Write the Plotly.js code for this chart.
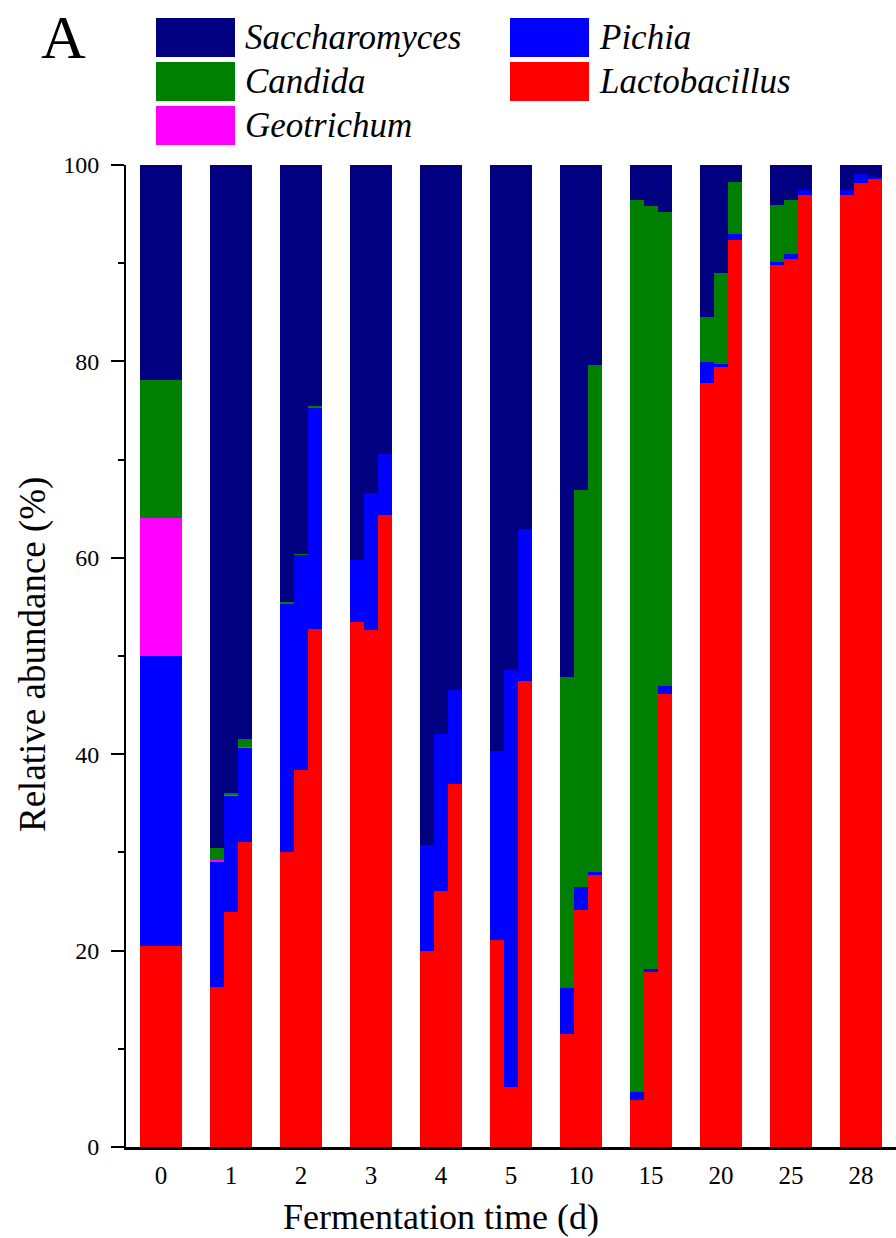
<!DOCTYPE html>
<html>
<head>
<meta charset="utf-8">
<script src="https://cdn.plot.ly/plotly-3.0.1.min.js"></script>
<style>
html,body{margin:0;padding:0;background:#fff;}
#chart{width:896px;height:1238px;}
</style>
</head>
<body>
<div id="chart"></div>
<script>
// ---- data (relative abundance, %, three replicates per sampling day) ----
const days = ['0', '1', '2', '3', '4', '5', '10', '15', '20', '25', '28'];
const genera = ['Saccharomyces', 'Pichia', 'Candida', 'Lactobacillus', 'Geotrichum'];

const lactobacillus = [
  [20.5, 20.5, 20.5], [16.3, 23.9, 31.1], [30.0, 38.4, 52.7], [53.5, 52.6, 64.4],
  [20.0, 26.1, 37.0], [21.1, 6.1, 47.5], [11.5, 24.1, 27.7], [4.8, 17.8, 46.1],
  [77.8, 79.4, 92.4], [89.8, 90.4, 96.9], [96.9, 98.2, 98.6]
];
const pichia = [
  [29.5, 29.5, 29.5], [12.7, 11.8, 9.5], [25.3, 21.9, 22.6], [6.3, 14.0, 6.2],
  [10.8, 16.0, 9.5], [19.2, 42.5, 15.4], [4.7, 2.4, 0.3], [0.8, 0.3, 0.8],
  [2.1, 0.3, 0.6], [0.3, 0.5, 0.6], [0.6, 0.9, 0.2]
];
const geotrichum = [
  [14.1, 14.1, 14.1], [0.2, 0.1, 0.1], [0, 0, 0], [0, 0, 0],
  [0, 0, 0], [0, 0, 0], [0, 0, 0], [0, 0, 0],
  [0, 0, 0], [0, 0, 0], [0, 0, 0]
];
const candida = [
  [14.0, 14.0, 14.0], [1.2, 0.3, 0.8], [0.2, 0.1, 0.2], [0, 0, 0],
  [0, 0, 0], [0, 0, 0], [31.7, 40.4, 51.6], [90.8, 77.7, 48.3],
  [4.6, 9.3, 5.3], [5.8, 5.5, 0], [0, 0, 0]
];
const saccharomyces = [
  [21.9, 21.9, 21.9], [69.6, 63.9, 58.5], [44.5, 39.6, 24.5], [40.2, 33.4, 29.4],
  [69.2, 57.9, 53.5], [59.7, 51.4, 37.1], [52.1, 33.1, 20.4], [3.6, 4.2, 4.8],
  [15.5, 11.0, 1.7], [4.1, 3.6, 2.5], [2.5, 0.9, 1.2]
];

// ---- styling ----
const series = [ // bottom -> top stacking order
  {name: 'Lactobacillus', values: lactobacillus, color: '#ff0000'},
  {name: 'Pichia', values: pichia, color: '#0000ff'},
  {name: 'Geotrichum', values: geotrichum, color: '#ff00ff'},
  {name: 'Candida', values: candida, color: '#008000'},
  {name: 'Saccharomyces', values: saccharomyces, color: '#000080'}
];
const repWidth = 0.2;
const FONT = '"Liberation Serif", "Times New Roman", serif';

const xs = [];
days.forEach((d, i) => { for (let j = 0; j < 3; j++) xs.push(i + (j - 1) * repWidth); });

const traces = series.map(s => ({
  type: 'bar',
  name: s.name,
  x: xs,
  y: s.values.flat(),
  width: repWidth * 1.02,
  marker: {color: s.color, line: {width: 0}},
  showlegend: false,
  hovertemplate: s.name + ': %{y}%<extra></extra>'
}));

// custom legend (large swatches, italic labels) in two columns
const legendOrder = [
  {name: 'Saccharomyces', col: 0, row: 0},
  {name: 'Candida', col: 0, row: 1},
  {name: 'Geotrichum', col: 0, row: 2},
  {name: 'Pichia', col: 1, row: 0},
  {name: 'Lactobacillus', col: 1, row: 1}
];
const W = 896, H = 1238, L = 126, R = 0, T = 165, B = 91;
const pw = W - L - R, ph = H - T - B;
const px = v => (v - L) / pw;
const py = v => (H - B - v) / ph;
const colX = [156, 510], swW = 79, rowY = [18, 62, 106], swH = 39;
const shapes = [], annotations = [];
legendOrder.forEach(it => {
  const s = series.find(q => q.name === it.name);
  const x0 = colX[it.col], y0 = rowY[it.row];
  shapes.push({type: 'rect', xref: 'paper', yref: 'paper',
    x0: px(x0), x1: px(x0 + swW), y0: py(y0 + swH), y1: py(y0),
    fillcolor: s.color, line: {width: 0}});
  annotations.push({xref: 'paper', yref: 'paper', x: px(x0 + swW + 8), y: py(y0 + swH / 2),
    xanchor: 'left', yanchor: 'middle', showarrow: false,
    text: '<i>' + it.name + '</i>', font: {family: FONT, size: 35, color: '#000'}});
});
annotations.push({xref: 'paper', yref: 'paper', x: px(39), y: py(37), xanchor: 'left', yanchor: 'middle',
  showarrow: false, text: 'A', font: {family: FONT, size: 62, color: '#000'}});
annotations.push({xref: 'paper', yref: 'paper', x: px(441), y: py(1217), xanchor: 'center', yanchor: 'middle',
  showarrow: false, text: 'Fermentation time (d)', font: {family: FONT, size: 36, color: '#000'}});
annotations.push({xref: 'paper', yref: 'paper', x: px(33), y: py(655), xanchor: 'center', yanchor: 'middle',
  showarrow: false, textangle: -90, text: 'Relative abundance (%)', font: {family: FONT, size: 37, color: '#000'}});

const layout = {
  width: W, height: H,
  margin: {l: L, r: R, t: T, b: B, pad: 0},
  paper_bgcolor: '#fff', plot_bgcolor: '#fff',
  barmode: 'stack',
  bargap: 0,
  font: {family: FONT, color: '#000'},
  xaxis: {
    range: [-0.5, days.length - 0.5],
    tickvals: days.map((d, i) => i), ticktext: days,
    ticks: '', showgrid: false, zeroline: false,
    showline: true, linecolor: '#000', linewidth: 3,
    tickfont: {family: FONT, size: 25, color: '#000'},
    ticklabelstandoff: 4
  },
  yaxis: {
    range: [0, 100], tickvals: [0, 20, 40, 60, 80, 100],
    ticks: 'outside', ticklen: 13, tickwidth: 2, tickcolor: '#000',
    minor: {tickvals: [10, 30, 50, 70, 90], ticks: 'outside', ticklen: 6, tickwidth: 2, tickcolor: '#000'},
    showgrid: false, zeroline: false,
    showline: true, linecolor: '#000', linewidth: 2,
    tickfont: {family: FONT, size: 24, color: '#000'},
    ticklabelstandoff: 7
  },
  shapes: shapes,
  annotations: annotations
};

Plotly.newPlot('chart', traces, layout, {displayModeBar: false, staticPlot: true});
</script>
</body>
</html>
